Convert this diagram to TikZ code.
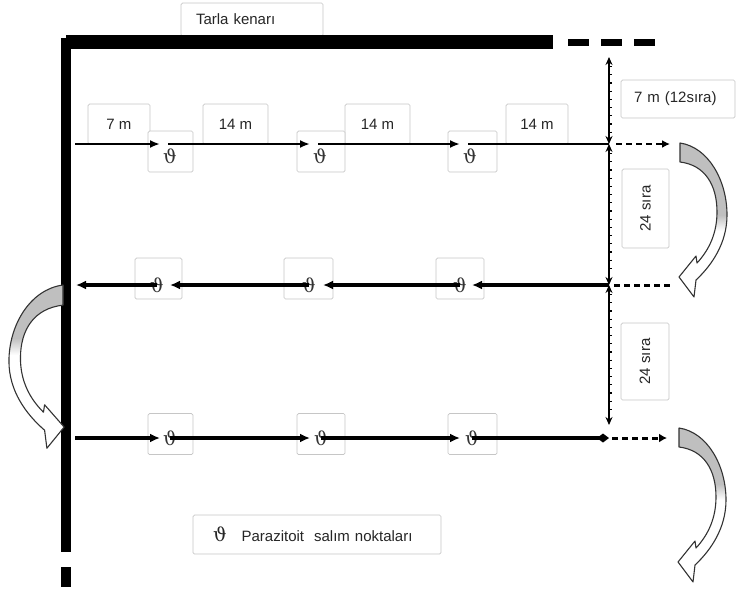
\documentclass[tikz,border=0pt]{standalone}
\usepackage{fontspec}
\setmainfont{Liberation Sans}
\newfontfamily\thetafont{DejaVu Serif}
\usetikzlibrary{arrows.meta}

% outline of the curved block arrow used for turning at the field ends
\def\turnshape{(0,0) .. controls (28,4) and (47,37) .. (47,72)
  .. controls (47,100) and (32,122) .. (16,137) -- (14,154) -- (-1,134)
  -- (16,113) -- (17,120) .. controls (30,106) and (37,89) .. (37,69)
  .. controls (37,42) and (25,22) .. (0,19) -- cycle}

\begin{document}
\begin{tikzpicture}[x=1pt,y=-1pt,
  lbl/.style={font=\fontsize{15}{17}\selectfont, text=black!85},
  boxa/.style={draw=gray!45, line width=0.7pt, fill=white, rounded corners=1.5pt, inner sep=0pt},
  thetamark/.style={font=\thetafont\fontsize{19}{19}\selectfont, text=black!80, inner sep=0pt},
  rowone/.style={line width=2pt, -{Latex[length=10pt,width=8pt]}},
  rowtwo/.style={line width=3.2pt, -{Latex[length=10pt,width=9pt]}},
  rowthree/.style={line width=3.4pt, -{Latex[length=10pt,width=9pt]}},
  extend/.style={line width=2.6pt, dash pattern=on 6pt off 4pt},
  dimline/.style={line width=1.2pt, {Stealth[length=8pt,width=7pt]}-{Stealth[length=8pt,width=7pt]},
    postaction={draw, -, line width=3pt, dash pattern=on 1.2pt off 7pt,
      shorten <=9pt, shorten >=9pt, transform canvas={xshift=1pt}}},
  pics/turnarrow/.style={code={
    \begin{scope}
      \clip \turnshape;
      \fill[white] (-20,-20) rectangle (70,170);
      \fill[gray!50] (-20,-20) rectangle (70,#1);
      \shade[top color=gray!50, bottom color=white] (-20,#1) rectangle (70,#1+16);
    \end{scope}
    \draw[line width=1.1pt, black!80, line join=round] \turnshape;
  }}
]
\useasboundingbox (0,0) rectangle (736,590);

% field edge label
\node[boxa, lbl, minimum height=33pt, inner xsep=15pt, text width=112pt, align=left]
  (tarla) at (252,19.5) {Tarla kenarı};

% field edges
\fill (61,38) rectangle (71,552);
\fill (66,35) rectangle (553,49);
\fill (61,567) rectangle (71,587);
\draw[line width=7pt, dash pattern=on 21pt off 12pt] (568,42.5) -- (657,42.5);

% distance labels along the first row
\node[boxa, lbl, minimum width=62pt, minimum height=40pt] (d1) at (119,124) {7 m};
\node[boxa, lbl, minimum width=65pt, minimum height=40pt] (d2) at (235.5,124) {14 m};
\node[boxa, lbl, minimum width=65pt, minimum height=40pt] (d3) at (377.5,124) {14 m};
\node[boxa, lbl, minimum width=62pt, minimum height=40pt] (d4) at (537,124) {14 m};

% release point boxes
\foreach \n/\cx/\cy/\w in {b11/170.5/151.5/45, b12/321/151.5/48, b13/472.5/151.5/49,
                          b21/158.5/278.5/47, b22/308.5/278.5/49, b23/460/278.5/48,
                          b31/170.5/434/45, b32/321/434/48, b33/472.5/434/49}
  \node[boxa, minimum width=\w pt, minimum height=41pt] (\n) at (\cx,\cy) {};

% release point marks
\node[thetamark] (t11) at (170,156) {ϑ};
\node[thetamark] (t12) at (320,156) {ϑ};
\node[thetamark] (t13) at (470,156) {ϑ};
\node[thetamark] (t21) at (157,285) {ϑ};
\node[thetamark] (t22) at (309,285) {ϑ};
\node[thetamark] (t23) at (460,285) {ϑ};
\node[thetamark] (t31) at (170,438) {ϑ};
\node[thetamark] (t32) at (321,438) {ϑ};
\node[thetamark] (t33) at (472,438) {ϑ};

% vertical spacing between rows
\coordinate (v0) at (609,57);
\coordinate (v1) at (609,144);
\coordinate (v2) at (609,285);
\coordinate (v3) at (609,425);
\draw[dimline] (v0) -- (v1);
\draw[dimline] (v1) -- (v2);
\draw[dimline] (v2) -- (v3);
\node[boxa, lbl, minimum height=38pt, inner xsep=13pt, text width=88pt, align=left]
  (s0) at (678,99) {7 m (12sıra)};
\node[boxa, lbl, rotate=90, minimum width=79pt, minimum height=47pt] (s1) at (645.5,208.5) {24 sıra};
\node[boxa, lbl, rotate=90, minimum width=77pt, minimum height=48pt] (s2) at (645,361.5) {24 sıra};

% first row, left to right
\coordinate (p1a) at (75,144);
\coordinate (p1b) at (160,144);
\coordinate (p1c) at (168,144);
\coordinate (p1d) at (310,144);
\coordinate (p1e) at (318,144);
\coordinate (p1f) at (460,144);
\coordinate (p1g) at (468,144);
\draw[rowone] (p1a) -- (p1b);
\draw[rowone] (p1c) -- (p1d);
\draw[rowone] (p1e) -- (p1f);
\draw[line width=2pt] (p1g) -- (v1);
\coordinate (e1) at (670,144);
\draw[extend, -{Latex[length=8pt,width=8pt]}, shorten <=7pt] (v1) -- (e1);

% second row, right to left
\coordinate (p2a) at (472,285);
\coordinate (p2b) at (323,285);
\coordinate (p2c) at (170,285);
\coordinate (p2d) at (76,285);
\draw[rowtwo] (v2) -- (p2a);
\draw[rowtwo] (t23.center) -- (p2b);
\draw[rowtwo] (t22.center) -- (p2c);
\draw[rowtwo] (t21.center) -- (p2d);
\coordinate (e2) at (671,285);
\draw[extend, line width=3pt, shorten <=5pt] (v2) -- (e2);

% third row, left to right
\coordinate (p3a) at (75,438);
\coordinate (p3b) at (160,438);
\coordinate (p3c) at (310,438);
\coordinate (p3d) at (460,438);
\coordinate (q3) at (609,438);
\draw[rowthree] (p3a) -- (p3b);
\draw[rowthree] (t31.center) -- (p3c);
\draw[rowthree] (t32.center) -- (p3d);
\draw[line width=3.4pt, -{Diamond[length=12pt,width=9pt]}] (t33.center) -- (q3);
\coordinate (e3) at (667,438);
\draw[extend, line width=3pt, -{Latex[length=8pt,width=9pt]}, shorten <=3pt] (q3) -- (e3);

% turning arrows at the field ends
\pic (turnA) at (680,143) {turnarrow=72};
\pic (turnB) at (679,428) {turnarrow=56};
\pic[xscale=-1.15, yscale=1.06] (turnC) at (63,285) {turnarrow=50};

% legend
\node[boxa, lbl, minimum height=39pt, text width=248pt, align=left] (legend) at (317,534.5)
  {\hspace*{20pt}{\thetafont\fontsize{19}{19}\selectfont ϑ}\hspace{15pt}Parazitoit\ \ salım noktaları};
\end{tikzpicture}
\end{document}
